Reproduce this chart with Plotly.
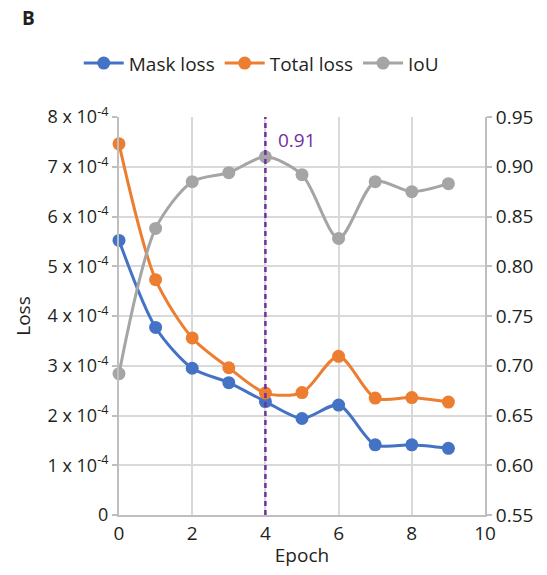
import plotly.graph_objects as go

epochs = [0, 1, 2, 3, 4, 5, 6, 7, 8, 9]
mask_loss = [5.52e-4, 3.77e-4, 2.95e-4, 2.66e-4, 2.28e-4, 1.94e-4, 2.21e-4, 1.41e-4, 1.41e-4, 1.34e-4]
total_loss = [7.46e-4, 4.73e-4, 3.56e-4, 2.96e-4, 2.45e-4, 2.46e-4, 3.19e-4, 2.35e-4, 2.36e-4, 2.27e-4]
iou = [0.692, 0.838, 0.885, 0.894, 0.910, 0.892, 0.828, 0.885, 0.875, 0.883]

loss_ticks = [0, 1e-4, 2e-4, 3e-4, 4e-4, 5e-4, 6e-4, 7e-4, 8e-4]
loss_ticktext = ["0"] + [f"{i} x 10<sup>-4</sup>" for i in range(1, 9)]
best_epoch = 4
best_label = "0.91"

FONT = "Open Sans"
TXT = "#231f20"
GRID = "#d9d9d9"
AX = "#bfbfbf"

fig = go.Figure()
for name, ys, col, yax in [
    ("Mask loss", mask_loss, "#4472C4", "y"),
    ("Total loss", total_loss, "#ED7D31", "y"),
    ("IoU", iou, "#A5A5A5", "y2"),
]:
    fig.add_trace(go.Scatter(
        x=epochs, y=ys, name=name, yaxis=yax, mode="lines+markers",
        line=dict(color=col, width=3, shape="spline", smoothing=0.8),
        marker=dict(color=col, size=13), cliponaxis=False,
    ))

fig.add_shape(type="line", x0=best_epoch, x1=best_epoch, y0=0, y1=1, xref="x", yref="paper",
              line=dict(color="#7030A0", width=2.5, dash="5px,4px"))
fig.add_annotation(x=best_epoch, y=iou[4], yref="y2", text=best_label, showarrow=False,
                   xanchor="left", yanchor="bottom", xshift=11, yshift=2,
                   font=dict(family=FONT, size=19, color="#7030A0"))
fig.add_annotation(xref="paper", yref="paper", x=-0.27, y=1.25, text="<b>B</b>", showarrow=False,
                   xanchor="left", yanchor="middle", font=dict(family=FONT, size=19, color=TXT))

fig.update_layout(
    width=547, height=575, margin=dict(l=119, r=62, t=117, b=57),
    paper_bgcolor="white", plot_bgcolor="white",
    font=dict(family=FONT, size=18, color=TXT),
    showlegend=True,
    legend=dict(orientation="h", x=-0.11, y=1.135, xanchor="left", yanchor="middle",
                font=dict(family=FONT, size=19, color=TXT), itemwidth=40, tracegroupgap=0),
    xaxis=dict(range=[0, 10], tickvals=[0, 2, 4, 6, 8, 10], showgrid=True, gridcolor=GRID, gridwidth=1.5,
               showline=True, linecolor=AX, linewidth=2, zeroline=False, ticks="",
               title=dict(text="Epoch", font=dict(size=19), standoff=4), tickfont=dict(size=19)),
    yaxis=dict(range=[0, 8e-4], tickvals=loss_ticks, ticktext=loss_ticktext, showgrid=True,
               gridcolor=GRID, gridwidth=1.5, showline=True, linecolor=AX, linewidth=2, zeroline=False,
               ticks="outside", ticklen=5, tickcolor=AX, tickwidth=1.5,
               title=dict(text="Loss", font=dict(size=19), standoff=12), tickfont=dict(size=18)),
    yaxis2=dict(range=[0.55, 0.95], dtick=0.05, tick0=0.55, tickformat=".2f", overlaying="y", side="right",
                showgrid=False, showline=True, linecolor=AX, linewidth=2, zeroline=False,
                ticks="outside", ticklen=5, tickcolor=AX, tickwidth=1.5, tickfont=dict(size=19)),
)

fig.write_html("out.html")
